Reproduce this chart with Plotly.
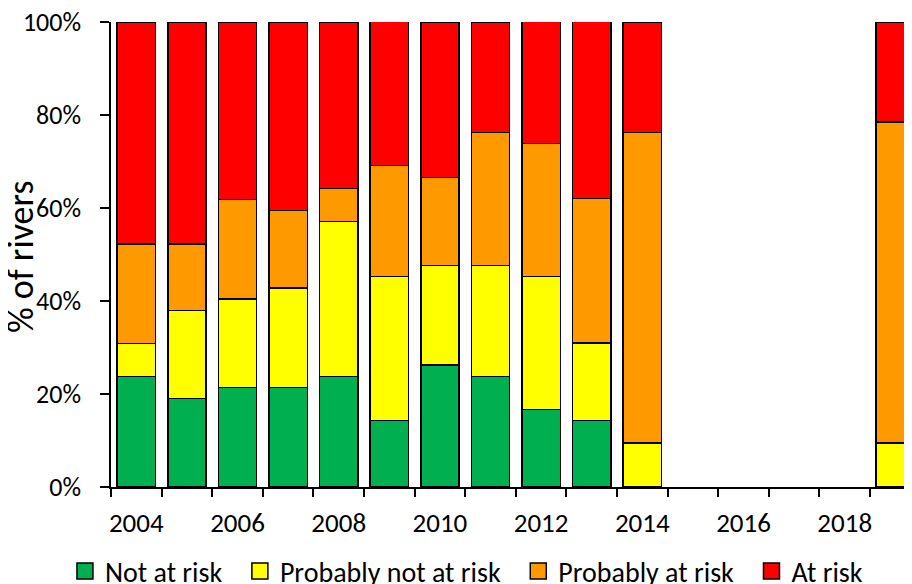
import plotly.graph_objects as go

years = [2004, 2005, 2006, 2007, 2008, 2009, 2010, 2011, 2012, 2013, 2014, 2019]
not_at_risk = [23.8, 19.0, 21.4, 21.4, 23.8, 14.3, 26.2, 23.8, 16.7, 14.3, 0.0, 0.0]
prob_not_at_risk = [7.1, 19.0, 19.0, 21.4, 33.3, 31.0, 21.4, 23.8, 28.6, 16.7, 9.5, 9.5]
prob_at_risk = [21.4, 14.3, 21.4, 16.7, 7.1, 23.8, 19.0, 28.6, 28.6, 31.0, 66.7, 69.0]
at_risk = [47.6, 47.6, 38.1, 40.5, 35.7, 31.0, 33.3, 23.8, 26.2, 38.1, 23.8, 21.4]

series = [
    ("Not at risk", not_at_risk, "#00B050"),
    ("Probably not at risk", prob_not_at_risk, "#FFFF00"),
    ("Probably at risk", prob_at_risk, "#FF9900"),
    ("At risk", at_risk, "#FF0000"),
]

tick_years = [2004, 2006, 2008, 2010, 2012, 2014, 2016, 2018]
boundaries = [2003.5 + i for i in range(16)]
y_ticks = [0, 20, 40, 60, 80, 100]
y_ticktext = [f"{v}%" for v in y_ticks]

FONT = "Carlito, Lato, 'Liberation Sans', sans-serif"
PAD = "\u00a0\u00a0"

fig = go.Figure()
for name, vals, col in series:
    fig.add_trace(go.Bar(
        x=years, y=vals, name=name, width=0.757, showlegend=False,
        legendgroup=name,
        marker=dict(color=col, line=dict(color="black", width=1.5)),
    ))
# legend entries (larger square swatches)
for i, (name, vals, col) in enumerate(series):
    label = name + (PAD if i < len(series) - 1 else "")
    fig.add_trace(go.Scatter(
        x=[None], y=[None], mode="markers", name=label, legendgroup=name,
        marker=dict(symbol="square", size=16, color=col,
                    line=dict(color="black", width=1.5)),
    ))

# page body has an 8px margin: figure is 904x576 so it ends at the window edge
fig.update_layout(
    barmode="stack",
    width=904, height=576,
    margin=dict(l=103, r=0, t=14, b=97),
    plot_bgcolor="white", paper_bgcolor="white",
    font=dict(family=FONT, size=24, color="black"),
    showlegend=True,
    legend=dict(orientation="h", xref="container", x=0.063, xanchor="left",
                yref="container", y=0.022, yanchor="middle",
                font=dict(size=28), traceorder="normal", itemwidth=30),
    annotations=[dict(
        text="% of rivers", textangle=-90, showarrow=False,
        xref="paper", yref="paper", x=-0.112, y=0.495,
        xanchor="center", yanchor="middle", font=dict(size=36),
    )],
)
fig.update_xaxes(
    range=[2003.5, 2019.33], automargin=False,
    tickmode="array", tickvals=tick_years, ticktext=[str(y) for y in tick_years],
    ticks="outside", ticklen=0, ticklabelstandoff=11,
    showline=True, linecolor="black", linewidth=1.5,
    showgrid=False, zeroline=False,
    minor=dict(tickmode="array", tickvals=boundaries, ticks="outside", ticklen=8,
               tickcolor="black", tickwidth=1.5, showgrid=False),
    tickfont=dict(size=27),
)
fig.update_yaxes(
    range=[0, 100], automargin=False,
    tickmode="array", tickvals=y_ticks, ticktext=y_ticktext,
    ticks="outside", ticklen=9, tickcolor="black", tickwidth=1.5,
    ticklabelstandoff=14, ticklabeloverflow="allow",
    showline=True, linecolor="black", linewidth=1.5,
    showgrid=False, zeroline=False,
    tickfont=dict(size=26),
)

fig.write_html("out.html")
